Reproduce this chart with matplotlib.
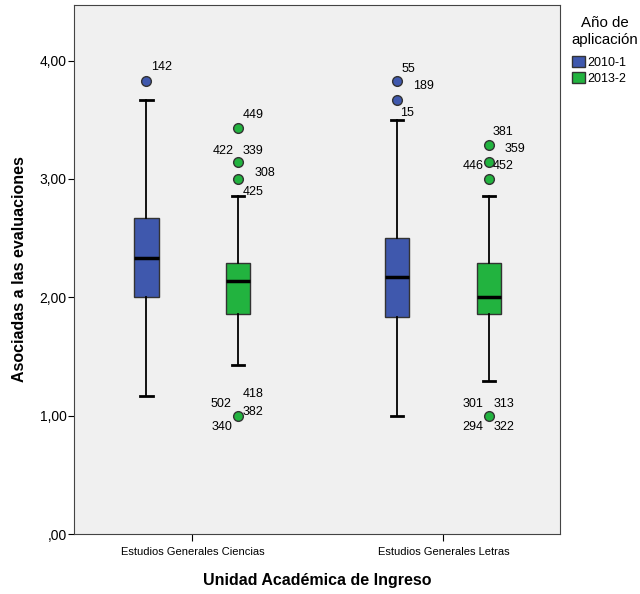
import matplotlib.pyplot as plt
import matplotlib.patches as mpatches

plt.rcParams['font.family'] = ['Liberation Sans', 'DejaVu Sans']

categories = ['Estudios Generales Ciencias', 'Estudios Generales Letras']
years = ['2010-1', '2013-2']
colors = ['#3F58AD', '#22B33F']

# box stats per year, one value per category
whislo = {'2010-1': [1.17, 1.00], '2013-2': [1.43, 1.29]}
q1 = {'2010-1': [2.00, 1.83], '2013-2': [1.86, 1.86]}
med = {'2010-1': [2.33, 2.17], '2013-2': [2.14, 2.00]}
q3 = {'2010-1': [2.67, 2.50], '2013-2': [2.29, 2.29]}
whishi = {'2010-1': [3.67, 3.50], '2013-2': [2.86, 2.86]}
fliers = {'2010-1': [[3.83], [3.83, 3.67]],
          '2013-2': [[3.43, 3.14, 3.00, 1.00], [3.29, 3.14, 3.00, 1.00]]}

# outlier case labels: (category, year, value, label, dx, dy, ha)
labels = [
    (0, '2010-1', 3.83, '142', 5, 14, 'left'),
    (0, '2013-2', 3.43, '449', 4, 13, 'left'),
    (0, '2013-2', 3.14, '422', -5, 11, 'right'),
    (0, '2013-2', 3.14, '339', 4, 11, 'left'),
    (0, '2013-2', 3.00, '308', 16, 6, 'left'),
    (0, '2013-2', 3.00, '425', 4, -13, 'left'),
    (0, '2013-2', 1.00, '418', 4, 22, 'left'),
    (0, '2013-2', 1.00, '502', -7, 12, 'right'),
    (0, '2013-2', 1.00, '382', 4, 4, 'left'),
    (0, '2013-2', 1.00, '340', -6, -11, 'right'),
    (1, '2010-1', 3.83, '55', 4, 12, 'left'),
    (1, '2010-1', 3.83, '189', 16, -5, 'left'),
    (1, '2010-1', 3.67, '15', 3, -13, 'left'),
    (1, '2013-2', 3.29, '381', 3, 13, 'left'),
    (1, '2013-2', 3.29, '359', 15, -4, 'left'),
    (1, '2013-2', 3.14, '446', -6, -4, 'right'),
    (1, '2013-2', 3.14, '452', 3, -4, 'left'),
    (1, '2013-2', 1.00, '301', -6, 12, 'right'),
    (1, '2013-2', 1.00, '313', 4, 12, 'left'),
    (1, '2013-2', 1.00, '294', -6, -11, 'right'),
    (1, '2013-2', 1.00, '322', 4, -11, 'left'),
]

offset = {'2010-1': -0.183, '2013-2': 0.183}
box_w = 0.096

fig = plt.figure(figsize=(6.4, 5.94), dpi=100)
ax = fig.add_axes([0.1156, 0.101, 0.759, 0.8906])
ax.set_facecolor('#F0F0F0')

for yr, col in zip(years, colors):
    stats = []
    for i in range(len(categories)):
        stats.append(dict(whislo=whislo[yr][i], q1=q1[yr][i], med=med[yr][i],
                          q3=q3[yr][i], whishi=whishi[yr][i], fliers=fliers[yr][i]))
    pos = [i + offset[yr] for i in range(len(categories))]
    ax.bxp(stats, positions=pos, widths=box_w, patch_artist=True, manage_ticks=False,
           boxprops=dict(facecolor=col, edgecolor='#333333', linewidth=1),
           medianprops=dict(color='black', linewidth=2.5),
           whiskerprops=dict(color='black', linewidth=1.3),
           capprops=dict(color='black', linewidth=2),
           flierprops=dict(marker='o', markerfacecolor=col, markeredgecolor='#333333',
                           markersize=7, markeredgewidth=1))

for cat, yr, val, txt, dx, dy, ha in labels:
    ax.annotate(txt, (cat + offset[yr], val), xytext=(dx, dy), textcoords='offset pixels',
                ha=ha, va='center', fontsize=9)

ax.set_xlim(-0.472, 1.464)
ax.set_ylim(0, 4.47)
ax.set_xticks(range(len(categories)))
ax.set_xticklabels(categories, fontsize=8)
ax.set_yticks([0, 1, 2, 3, 4])
ax.set_yticklabels([',00', '1,00', '2,00', '3,00', '4,00'], fontsize=10)
ax.tick_params(axis='x', length=5, pad=4)
ax.tick_params(axis='y', length=4.3, pad=1)
ax.set_xlabel('Unidad Académica de Ingreso', fontsize=11.5, fontweight='bold', labelpad=12)
ax.set_ylabel('Asociadas a las evaluaciones', fontsize=11.5, fontweight='bold')
ax.yaxis.set_label_coords(-0.0967, 0.5)
for s in ax.spines.values():
    s.set_color('#444444')

fig.text(0.945, 0.973, 'Año de\naplicación', ha='center', va='top', fontsize=10.8,
         linespacing=1.25, multialignment='center')
handles = [mpatches.Patch(facecolor=c, edgecolor='#333333', label=y) for y, c in zip(years, colors)]
fig.legend(handles=handles, loc='upper left', bbox_to_anchor=(0.894, 0.906),
           frameon=False, fontsize=9, handlelength=1.0, handleheight=1.0,
           handletextpad=0.2, borderpad=0.0, borderaxespad=0.0, labelspacing=0.25)

fig.savefig('out.png', dpi=100)
